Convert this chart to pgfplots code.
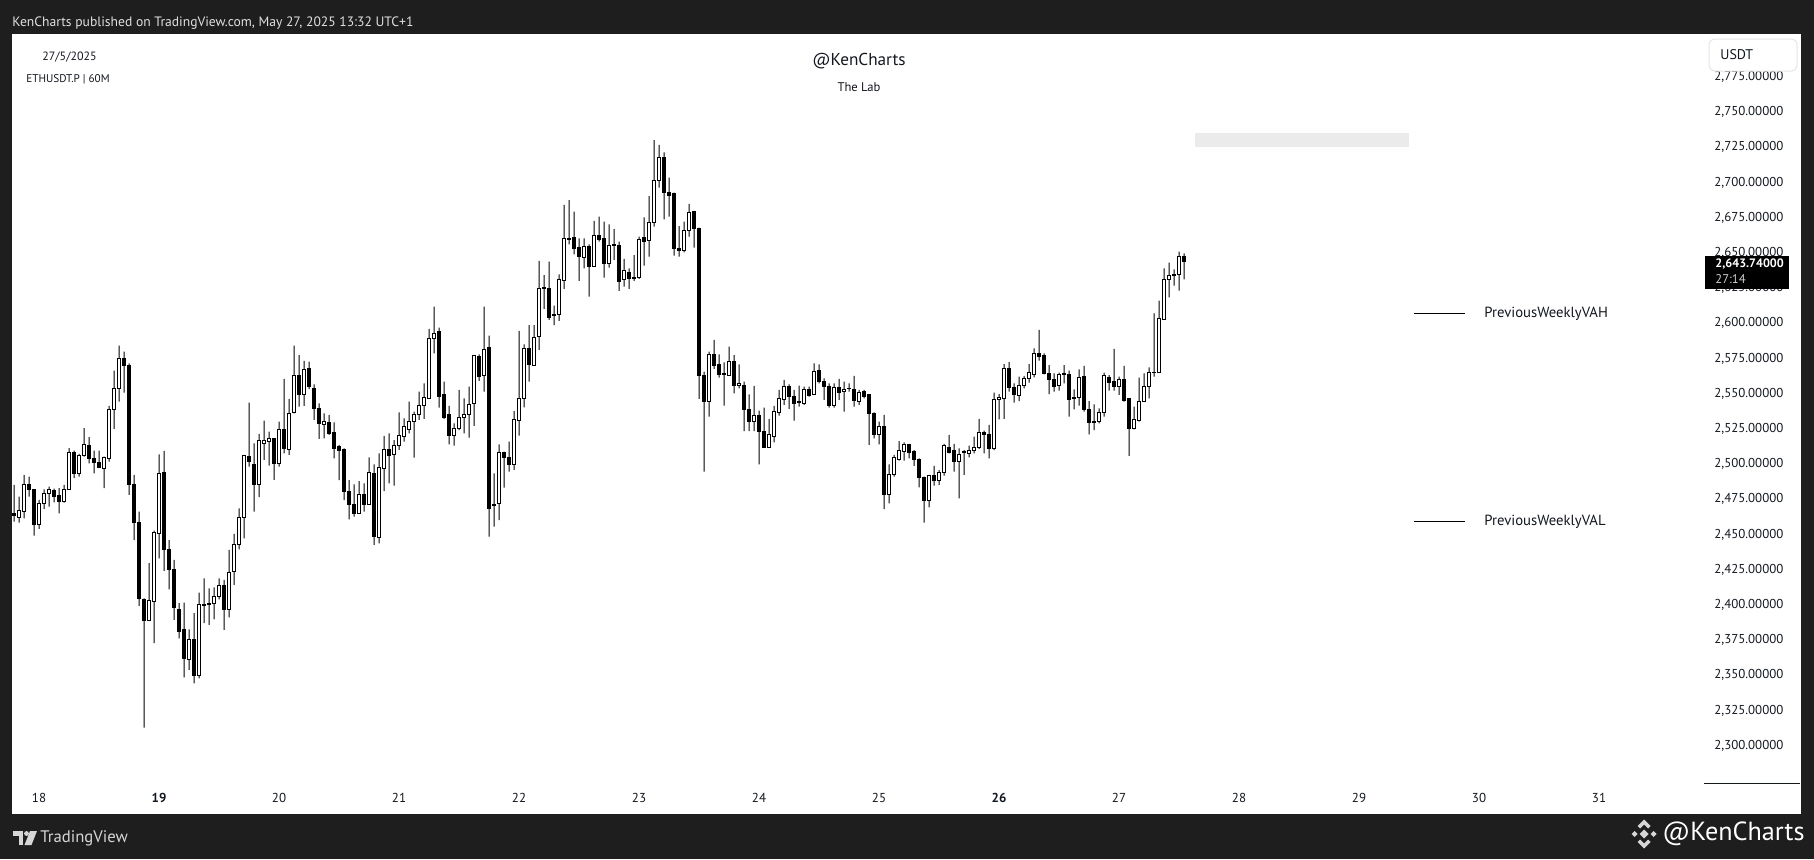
\documentclass[border=0pt]{standalone}
\usepackage{fontspec}
\setmainfont{PT Sans}
\usepackage{pgfplots}
\usepackage{pgfplotstable}
\pgfplotsset{compat=1.18}
\definecolor{frame}{HTML}{1E1E1E}
\definecolor{tvtext}{HTML}{131722}
\definecolor{zone}{HTML}{EBEBEB}
\definecolor{foot}{HTML}{D6D6D6}

% ETHUSDT.P 60M candles, n = hours since 18 May 00:00
\pgfplotstableread{
n o h l c
-5 2465.0 2485.1 2459.1 2463.1
-4 2462.2 2476.8 2458.4 2466.7
-3 2466.2 2492.2 2461.4 2485.1
-2 2485.1 2491.0 2476.8 2482.0
-1 2481.6 2482.0 2449.1 2456.7
0 2456.7 2474.5 2453.9 2471.6
1 2471.6 2482.0 2468.1 2479.2
2 2479.2 2483.9 2469.7 2482.0
3 2481.3 2482.5 2472.8 2476.8
4 2477.3 2482.8 2465.0 2473.3
5 2473.3 2485.1 2472.6 2482.0
6 2482.0 2511.2 2481.6 2508.3
7 2508.3 2509.5 2489.9 2493.4
8 2492.9 2507.1 2491.0 2506.0
9 2505.7 2525.4 2505.2 2513.5
10 2513.1 2519.0 2500.5 2504.1
11 2504.1 2509.5 2493.4 2501.2
12 2501.2 2509.5 2497.7 2497.7
13 2497.0 2505.2 2482.8 2504.5
14 2504.1 2541.2 2501.7 2538.4
15 2538.4 2566.3 2524.9 2553.8
16 2553.8 2584.1 2544.3 2575.1
17 2575.1 2579.8 2550.7 2570.3
18 2570.3 2571.5 2478.0 2485.6
19 2485.6 2492.2 2446.0 2458.6
20 2458.6 2466.2 2399.2 2404.6
21 2403.9 2404.6 2312.8 2388.8
22 2388.8 2429.5 2388.8 2403.0
23 2402.3 2452.7 2372.7 2451.5
24 2450.8 2506.9 2433.0 2493.4
25 2494.1 2509.3 2424.0 2439.4
26 2439.4 2446.0 2411.0 2425.2
27 2424.8 2431.9 2389.2 2398.2
28 2396.8 2401.1 2376.2 2381.0
29 2382.1 2401.5 2348.5 2362.0
30 2361.3 2382.6 2353.7 2375.0
31 2375.0 2394.0 2344.2 2349.7
32 2349.7 2408.6 2347.8 2399.9
33 2399.6 2418.8 2386.9 2400.4
34 2401.1 2411.7 2385.7 2400.4
35 2401.1 2412.4 2389.7 2405.8
36 2405.8 2418.8 2403.9 2413.4
37 2413.4 2417.6 2382.1 2396.8
38 2396.8 2439.0 2391.1 2423.1
39 2423.6 2450.3 2414.1 2443.0
40 2442.5 2468.5 2439.4 2462.2
41 2462.2 2506.4 2447.2 2505.7
42 2505.2 2543.6 2498.1 2501.7
43 2499.3 2514.7 2466.2 2485.6
44 2485.6 2521.3 2476.4 2516.4
45 2514.7 2530.8 2502.9 2516.4
46 2515.9 2523.0 2498.9 2518.3
47 2518.3 2518.3 2488.7 2500.5
48 2500.5 2530.1 2498.1 2524.2
49 2524.2 2560.4 2507.6 2511.2
50 2510.5 2546.2 2506.4 2536.0
51 2536.5 2584.1 2536.0 2562.5
52 2562.5 2577.4 2540.7 2549.0
53 2549.5 2573.2 2541.2 2566.8
54 2567.5 2572.7 2553.3 2554.9
55 2553.7 2556.6 2531.3 2539.5
56 2539.5 2543.1 2517.8 2528.9
57 2527.7 2536.0 2518.2 2530.1
58 2529.6 2534.8 2520.6 2521.8
59 2522.5 2529.6 2504.0 2511.1
60 2512.3 2513.5 2488.6 2509.5
61 2510.0 2511.1 2474.4 2480.4
62 2480.8 2488.6 2460.7 2471.3
63 2471.3 2485.6 2462.6 2465.0
64 2465.0 2487.9 2464.5 2478.0
65 2478.5 2486.3 2466.1 2471.3
66 2471.3 2504.7 2470.9 2494.1
67 2493.4 2499.8 2442.5 2448.4
68 2447.7 2507.6 2443.7 2497.6
69 2496.9 2519.9 2480.8 2510.0
70 2510.0 2521.8 2486.3 2505.9
71 2506.4 2517.0 2484.6 2513.0
72 2513.0 2536.7 2510.0 2519.9
73 2519.4 2532.4 2515.9 2526.5
74 2524.6 2544.3 2521.8 2530.1
75 2530.1 2537.2 2504.5 2535.5
76 2535.3 2551.4 2531.3 2541.2
77 2541.2 2557.3 2532.0 2547.1
78 2546.6 2595.9 2546.6 2589.3
79 2589.3 2611.7 2578.6 2592.8
80 2594.0 2596.8 2540.0 2547.8
81 2549.5 2558.5 2532.0 2532.9
82 2534.8 2541.2 2514.0 2520.1
83 2520.1 2528.9 2513.0 2525.3
84 2525.3 2552.6 2524.1 2533.1
85 2533.1 2546.6 2521.8 2535.3
86 2535.3 2554.9 2518.7 2542.4
87 2543.1 2576.7 2527.0 2576.7
88 2576.2 2577.9 2559.0 2562.0
89 2562.5 2611.7 2551.4 2581.4
90 2582.6 2591.2 2448.4 2468.5
91 2470.9 2493.4 2455.5 2470.2
92 2471.6 2514.0 2460.2 2508.3
93 2508.3 2508.8 2483.2 2504.7
94 2504.7 2515.9 2494.6 2499.8
95 2499.8 2537.6 2495.8 2531.3
96 2530.8 2594.5 2520.1 2546.6
97 2546.6 2585.0 2540.2 2582.2
98 2582.2 2598.7 2558.5 2570.8
99 2569.8 2598.7 2569.8 2589.7
100 2590.4 2644.2 2581.0 2624.8
101 2624.3 2634.2 2610.1 2625.2
102 2624.3 2643.7 2602.3 2603.9
103 2606.3 2612.5 2598.7 2605.8
104 2606.3 2634.7 2601.6 2630.7
105 2630.0 2684.0 2624.3 2660.3
106 2659.8 2687.5 2656.0 2660.3
107 2660.7 2679.2 2648.9 2653.2
108 2653.6 2660.3 2630.0 2647.3
109 2646.5 2660.3 2639.0 2654.4
110 2654.4 2656.0 2618.8 2640.2
111 2640.2 2672.6 2640.2 2662.6
112 2662.6 2675.7 2657.9 2659.8
113 2660.3 2672.1 2632.3 2642.5
114 2642.5 2670.2 2639.4 2655.5
115 2655.5 2666.9 2644.9 2656.0
116 2655.5 2657.9 2622.9 2629.5
117 2631.2 2645.6 2626.0 2637.3
118 2636.1 2639.0 2624.3 2631.9
119 2631.9 2648.4 2630.0 2632.3
120 2632.3 2661.5 2631.4 2659.8
121 2660.7 2675.2 2640.9 2657.9
122 2658.6 2690.3 2647.3 2671.6
123 2671.6 2730.1 2668.6 2701.7
124 2701.7 2726.6 2696.3 2717.8
125 2717.8 2721.4 2673.8 2692.7
126 2692.7 2703.4 2675.7 2691.0
127 2692.2 2692.7 2648.0 2653.2
128 2653.2 2669.0 2647.3 2651.5
129 2651.3 2672.1 2650.3 2665.5
130 2665.5 2684.7 2661.5 2678.7
131 2679.2 2679.7 2653.7 2667.4
132 2667.4 2667.9 2546.2 2562.7
133 2562.7 2565.6 2494.6 2544.7
134 2544.7 2579.8 2533.6 2577.9
135 2577.9 2588.1 2567.5 2569.8
136 2570.8 2577.9 2561.3 2563.7
137 2564.4 2572.2 2541.4 2563.7
138 2563.2 2583.3 2562.7 2572.7
139 2572.7 2577.4 2550.2 2556.1
140 2555.6 2570.8 2553.7 2557.3
141 2556.1 2558.5 2523.4 2538.4
142 2538.4 2549.5 2523.4 2530.1
143 2530.1 2555.4 2523.4 2534.3
144 2534.1 2537.9 2499.8 2523.0
145 2523.0 2540.0 2511.6 2511.6
146 2511.6 2532.0 2511.6 2520.6
147 2519.4 2541.2 2515.4 2537.2
148 2536.7 2552.6 2534.3 2546.2
149 2545.5 2559.7 2541.9 2555.0
150 2555.0 2556.6 2539.1 2547.8
151 2547.8 2552.6 2530.8 2543.1
152 2544.3 2555.6 2540.7 2543.8
153 2543.1 2555.0 2541.9 2552.6
154 2552.6 2555.0 2547.8 2548.5
155 2549.5 2571.5 2549.0 2565.6
156 2566.3 2570.8 2557.3 2558.9
157 2558.9 2560.8 2545.5 2555.0
158 2555.0 2557.3 2540.0 2541.2
159 2541.2 2557.3 2540.0 2554.5
160 2554.5 2560.4 2545.5 2550.7
161 2551.8 2558.5 2537.2 2553.0
162 2553.3 2557.3 2551.4 2553.7
163 2553.0 2562.5 2540.7 2545.0
164 2544.3 2552.6 2541.9 2550.7
165 2551.4 2552.6 2546.6 2547.8
166 2549.0 2549.5 2513.5 2536.0
167 2536.0 2536.7 2518.2 2521.1
168 2521.1 2530.1 2514.0 2526.5
169 2526.5 2534.8 2468.0 2478.0
170 2478.0 2499.8 2472.0 2492.7
171 2492.7 2506.4 2491.0 2504.5
172 2503.5 2516.3 2502.4 2509.5
173 2508.8 2515.4 2502.4 2513.5
174 2513.5 2514.2 2504.0 2508.0
175 2508.8 2509.9 2498.6 2503.3
176 2503.3 2504.0 2483.4 2490.5
177 2490.5 2491.0 2458.3 2474.4
178 2474.4 2492.2 2469.2 2491.5
179 2491.5 2498.6 2484.6 2488.6
180 2488.6 2495.7 2485.1 2493.8
181 2493.8 2514.2 2491.7 2512.8
182 2511.8 2520.6 2507.6 2508.3
183 2509.9 2514.2 2494.6 2502.1
184 2502.1 2511.1 2475.6 2506.9
185 2508.3 2509.9 2492.2 2508.8
186 2507.6 2513.0 2504.7 2509.9
187 2509.5 2519.4 2507.6 2511.8
188 2511.8 2532.0 2510.7 2522.5
189 2522.5 2523.7 2507.6 2520.6
190 2520.6 2527.7 2504.0 2511.1
191 2510.7 2550.7 2509.9 2545.5
192 2545.5 2549.7 2531.7 2547.1
193 2546.6 2571.0 2532.0 2567.5
194 2567.5 2572.4 2551.4 2554.5
195 2554.2 2557.3 2543.6 2549.0
196 2548.5 2562.0 2544.7 2555.6
197 2555.6 2562.5 2553.7 2560.4
198 2560.4 2571.0 2557.8 2564.9
199 2563.7 2582.1 2561.6 2578.6
200 2578.6 2595.2 2573.4 2576.2
201 2576.7 2578.6 2563.7 2564.4
202 2564.4 2570.3 2549.7 2559.7
203 2559.7 2564.4 2551.4 2554.9
204 2555.6 2564.9 2552.1 2563.7
205 2564.4 2570.3 2557.3 2563.7
206 2563.7 2566.3 2533.6 2545.9
207 2547.1 2553.0 2538.8 2546.4
208 2547.1 2567.2 2541.4 2561.6
209 2562.0 2569.6 2537.2 2538.4
210 2538.4 2544.7 2521.1 2529.4
211 2530.5 2542.4 2524.1 2529.6
212 2530.1 2539.5 2528.9 2536.7
213 2536.5 2564.9 2533.6 2562.5
214 2561.6 2563.2 2552.1 2557.8
215 2558.5 2581.7 2552.1 2554.9
216 2554.9 2562.0 2549.0 2560.1
217 2560.1 2569.6 2544.3 2545.0
218 2546.6 2546.6 2505.7 2525.3
219 2525.3 2540.7 2524.6 2531.3
220 2530.8 2561.3 2530.1 2544.7
221 2544.3 2564.4 2544.3 2554.9
222 2554.9 2568.7 2546.6 2565.1
223 2564.9 2607.0 2562.0 2565.3
224 2565.1 2616.0 2565.1 2603.0
225 2602.7 2639.0 2602.7 2630.7
226 2630.7 2643.0 2618.4 2634.2
227 2634.0 2638.3 2626.7 2634.5
228 2634.5 2650.8 2623.1 2647.7
229 2647.7 2649.6 2631.2 2643.74
}\candles

% plot area: pixels 12..1704 across, 34..783 down, 1px = 0.5pt
\pgfplotsset{
  chart/.style={at={(6pt,-391.5pt)}, anchor=south west, scale only axis,
    width=846pt, height=374.5pt,
    xmin=-5.4, xmax=333, ymin=2273.4, ymax=2805.4},
}

\begin{document}
\begin{tikzpicture}
\begin{scope}[x=0.5pt, y=-0.5pt]
\fill[frame] (0,0) rectangle (1814,859);
\fill[white] (12,34) rectangle (1801,814);
\node[anchor=base west, inner sep=0, text=white!88!black,
  font=\fontsize{6.8}{8}\selectfont] at (12,26.5)
  {KenCharts published on TradingView.com, May 27, 2025 13:32 UTC+1};
\end{scope}

% price scale, dates, levels
\begin{axis}[chart,
  axis line style={draw=none}, tick style={draw=none},
  xtick={0,24,...,312},
  xticklabels={18,\textbf{19},20,21,22,23,24,25,\textbf{26},27,28,29,30,31},
  xticklabel style={anchor=center, inner sep=0pt, yshift=-7.5pt,
    font=\fontsize{6.5}{7}\selectfont, text=tvtext},
  ytick={2300,2325,...,2775},
  yticklabel pos=right,
  yticklabel style={anchor=west, inner sep=0pt, xshift=5pt,
    font=\fontsize{6.45}{8}\selectfont, text=tvtext,
    /pgf/number format/.cd, fixed, fixed zerofill, precision=5,
    1000 sep={,}, assume math mode=true},
]
\addplot[fill=zone, draw=none] coordinates
  {(231.2,2725) (274,2725) (274,2735) (231.2,2735)} -- cycle;
\addplot[black, line width=0.5pt] coordinates {(275,2607) (285.2,2607)};
\addplot[black, line width=0.5pt] coordinates {(275,2459) (285.2,2459)};
\node[anchor=west, inner sep=0pt, text=tvtext, font=\fontsize{7.35}{8}\selectfont]
  at (axis cs:289,2607) {PreviousWeeklyVAH};
\node[anchor=west, inner sep=0pt, text=tvtext, font=\fontsize{7.35}{8}\selectfont]
  at (axis cs:289,2459) {PreviousWeeklyVAL};
\end{axis}

% wicks
\begin{axis}[chart, hide axis, ybar stacked, bar width=0.5pt]
\addplot[draw=none, fill=none] table[x=n, y=l] {\candles};
\addplot[fill=black, draw=none] table[x=n, y expr=\thisrow{h}-\thisrow{l}] {\candles};
\end{axis}

% bodies
\begin{axis}[chart, hide axis, ybar stacked, bar width=1.5pt]
\addplot[draw=none, fill=none] table[x=n, y expr={min(\thisrow{o},\thisrow{c})}] {\candles};
\addplot[fill=white, draw=black, line width=0.5pt]
  table[x=n, y expr={max(\thisrow{c}-\thisrow{o},0)}] {\candles};
\addplot[fill=black, draw=black, line width=0.5pt]
  table[x=n, y expr={max(\thisrow{o}-\thisrow{c},0)}] {\candles};
\end{axis}

\begin{scope}[x=0.5pt, y=-0.5pt]
% overlays on the price scale
\draw[tvtext, line width=0.5pt] (1704,783) -- (1800,783);
\fill[black] (1705,256) rectangle (1789,289);
\node[anchor=west, inner sep=0, text=white, font=\bfseries\fontsize{6.1}{8}\selectfont]
  at (1715,264) {2,643.74000};
\node[anchor=west, inner sep=0, text=white!80!black, font=\fontsize{6.3}{8}\selectfont]
  at (1715,279) {27:14};
\filldraw[fill=white, draw=black!10, line width=0.5pt, rounded corners=3pt]
  (1709,39) rectangle (1797,71);
\node[anchor=west, inner sep=0, text=tvtext, font=\fontsize{7}{8}\selectfont]
  at (1720,55) {USDT};

% chart header
\node[text=tvtext, font=\fontsize{8.6}{10}\selectfont] at (859,61.5) {@KenCharts};
\node[text=tvtext, font=\fontsize{6.3}{8}\selectfont] at (859,87) {The Lab};
\node[anchor=west, inner sep=0, text=tvtext, font=\fontsize{6}{8}\selectfont]
  at (42,57) {27/5/2025};
\node[anchor=west, inner sep=0, text=tvtext, font=\fontsize{5.6}{8}\selectfont]
  at (26,79) {ETHUSDT.P | 60M};

% footer
\fill[foot] (13,831) rectangle (23,836);
\fill[foot] (18.5,831) rectangle (23,845);
\fill[foot] (26.5,833.5) circle (2.4);
\fill[foot] (30,831) -- (37,831) -- (31.5,845) -- (24.5,845) -- cycle;
\node[anchor=west, inner sep=0, text=foot, font=\fontsize{8.35}{10}\selectfont]
  at (40,838.5) {TradingView};
% exchange mark
\fill[foot] (1644,829.5) -- (1648.5,834) -- (1644,838.5) -- (1639.5,834) -- cycle;
\fill[foot] (1634.5,831) -- (1637.5,834) -- (1634.5,837) -- (1631.5,834) -- cycle;
\fill[foot] (1653.5,831) -- (1656.5,834) -- (1653.5,837) -- (1650.5,834) -- cycle;
\fill[foot] (1637.5,826) -- (1644,819.5) -- (1650.5,826) -- (1648,828.5) -- (1644,824.5)
  -- (1640,828.5) -- cycle;
\fill[foot] (1637.5,842) -- (1644,848.5) -- (1650.5,842) -- (1648,839.5) -- (1644,843.5)
  -- (1640,839.5) -- cycle;
\node[anchor=west, inner sep=0, text=white, font=\fontsize{13.1}{15}\selectfont]
  at (1662,834) {@KenCharts};

\pgfresetboundingbox
\path[use as bounding box] (0,0) rectangle (1814,859);
\end{scope}
\end{tikzpicture}
\end{document}
